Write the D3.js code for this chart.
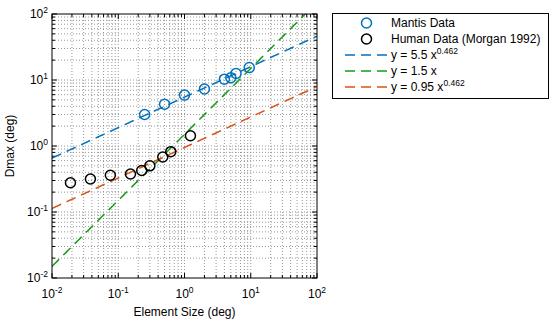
<!DOCTYPE html>
<html><head><meta charset="utf-8">
<script src="https://cdn.jsdelivr.net/npm/d3@7"></script>
<style>body{margin:0;background:#fff}text{font-family:"Liberation Sans",Arial,sans-serif}</style>
</head><body>
<svg id="c" width="550" height="321"></svg>
<script>
const mantisX = [0.25, 0.5, 1, 2, 4, 5, 6, 9.5];
const mantisY = [3.0, 4.3, 5.9, 7.3, 10.3, 10.8, 12.6, 15.4];
const humanX = [0.019, 0.038, 0.076, 0.153, 0.226, 0.30, 0.47, 0.62, 1.23];
const humanY = [0.278, 0.316, 0.36, 0.377, 0.425, 0.50, 0.68, 0.82, 1.43];
const fits = [
  {a:5.5, b:0.462, color:"#0072BD", label:["y = 5.5 x","0.462"]},
  {a:1.5, b:1, color:"#139a17", label:["y = 1.5 x",""]},
  {a:0.95, b:0.462, color:"#D95319", label:["y = 0.95 x","0.462"]}
];
const xTickExp = [-2,-1,0,1,2];
const yTickExp = [-2,-1,0,1,2];

const svg = d3.select("#c");
const L=52,R=317,T=14,B=278;
const FS=12, ES=8.5;
const x = d3.scaleLog().domain([0.01,100]).range([L,R]);
const y = d3.scaleLog().domain([0.01,100]).range([B,T]);

svg.append("defs").append("clipPath").attr("id","clip").append("rect")
  .attr("x",L).attr("y",T).attr("width",R-L).attr("height",B-T);

// grid
const minors=[];
for(let e=-2;e<2;e++){for(let m=1;m<10;m++){minors.push(m*Math.pow(10,e));}}
minors.push(100);
const g = svg.append("g");
minors.forEach(v=>{
  if(v>0.0100001 && v<99.999){
    g.append("line").attr("x1",x(v)).attr("x2",x(v)).attr("y1",T).attr("y2",B)
      .attr("stroke","#8c8c8c").attr("stroke-width",0.9).attr("stroke-dasharray","1,2");
    g.append("line").attr("y1",y(v)).attr("y2",y(v)).attr("x1",L).attr("x2",R)
      .attr("stroke","#8c8c8c").attr("stroke-width",0.9).attr("stroke-dasharray","1,2");
  }
});
// ticks
minors.forEach(v=>{
  const major = Math.abs(Math.log10(v)-Math.round(Math.log10(v)))<1e-9;
  const len = major?5:3;
  g.append("line").attr("x1",x(v)).attr("x2",x(v)).attr("y1",B).attr("y2",B-len).attr("stroke","#000");
  g.append("line").attr("x1",x(v)).attr("x2",x(v)).attr("y1",T).attr("y2",T+len).attr("stroke","#000");
  g.append("line").attr("y1",y(v)).attr("y2",y(v)).attr("x1",L).attr("x2",L+len).attr("stroke","#000");
  g.append("line").attr("y1",y(v)).attr("y2",y(v)).attr("x1",R).attr("x2",R-len).attr("stroke","#000");
});

// lines
const xs = d3.range(0,201).map(i=>Math.pow(10,-2+i*4/200));
const lg = svg.append("g").attr("clip-path","url(#clip)");
fits.forEach(f=>{
  lg.append("path").attr("d",d3.line().x(d=>x(d)).y(d=>y(f.a*Math.pow(d,f.b)))(xs))
    .attr("fill","none").attr("stroke",f.color).attr("stroke-width",1.5).attr("stroke-dasharray","10,6");
});

// points
svg.selectAll(".m").data(mantisX).enter().append("circle")
  .attr("cx",d=>x(d)).attr("cy",(d,i)=>y(mantisY[i])).attr("r",5)
  .attr("fill","none").attr("stroke","#0072BD").attr("stroke-width",1.5);
svg.selectAll(".h").data(humanX).enter().append("circle")
  .attr("cx",d=>x(d)).attr("cy",(d,i)=>y(humanY[i])).attr("r",5)
  .attr("fill","none").attr("stroke","#000").attr("stroke-width",1.5);

// box
svg.append("rect").attr("x",L).attr("y",T).attr("width",R-L).attr("height",B-T)
  .attr("fill","none").attr("stroke","#000").attr("stroke-width",1);

// tick labels
xTickExp.forEach(e=>{
  const t = svg.append("text").attr("x",x(Math.pow(10,e))).attr("y",B+20)
    .attr("text-anchor","middle").attr("font-size",FS);
  t.append("tspan").text("10");
  t.append("tspan").attr("dy",-5).attr("font-size",ES).text(e);
});
yTickExp.forEach(e=>{
  const t = svg.append("text").attr("x",L-4).attr("y",y(Math.pow(10,e))+4)
    .attr("text-anchor","end").attr("font-size",FS);
  t.append("tspan").text("10");
  t.append("tspan").attr("dy",-5).attr("font-size",ES).text(e);
});
svg.append("text").attr("x",(L+R)/2).attr("y",316).attr("text-anchor","middle")
  .attr("font-size",FS).text("Element Size (deg)");
svg.append("text").attr("transform",`translate(14,${(T+B)/2}) rotate(-90)`).attr("text-anchor","middle")
  .attr("font-size",FS).text("Dmax (deg)");

// legend
const lgd = svg.append("g");
lgd.append("rect").attr("x",332.5).attr("y",13.5).attr("width",216).attr("height",85)
  .attr("fill","#fff").attr("stroke","#000").attr("stroke-width",1);
const rows=[23,39,55,71,87];
lgd.append("circle").attr("cx",366.5).attr("cy",rows[0]).attr("r",5).attr("fill","none").attr("stroke","#0072BD").attr("stroke-width",1.5);
lgd.append("circle").attr("cx",366.5).attr("cy",rows[1]).attr("r",5).attr("fill","none").attr("stroke","#000").attr("stroke-width",1.5);
lgd.append("text").attr("x",391).attr("y",rows[0]+4).attr("font-size",FS).text("Mantis Data");
lgd.append("text").attr("x",391).attr("y",rows[1]+4).attr("font-size",FS).text("Human Data (Morgan 1992)");
fits.forEach((f,i)=>{
  const yy=rows[i+2];
  lgd.append("line").attr("x1",345).attr("x2",387).attr("y1",yy).attr("y2",yy)
    .attr("stroke",f.color).attr("stroke-width",1.5).attr("stroke-dasharray","10,6");
  const t=lgd.append("text").attr("x",391).attr("y",yy+4).attr("font-size",FS);
  t.append("tspan").text(f.label[0]);
  if(f.label[1]) t.append("tspan").attr("dy",-5).attr("font-size",ES).text(f.label[1]);
});
</script>
</body></html>
